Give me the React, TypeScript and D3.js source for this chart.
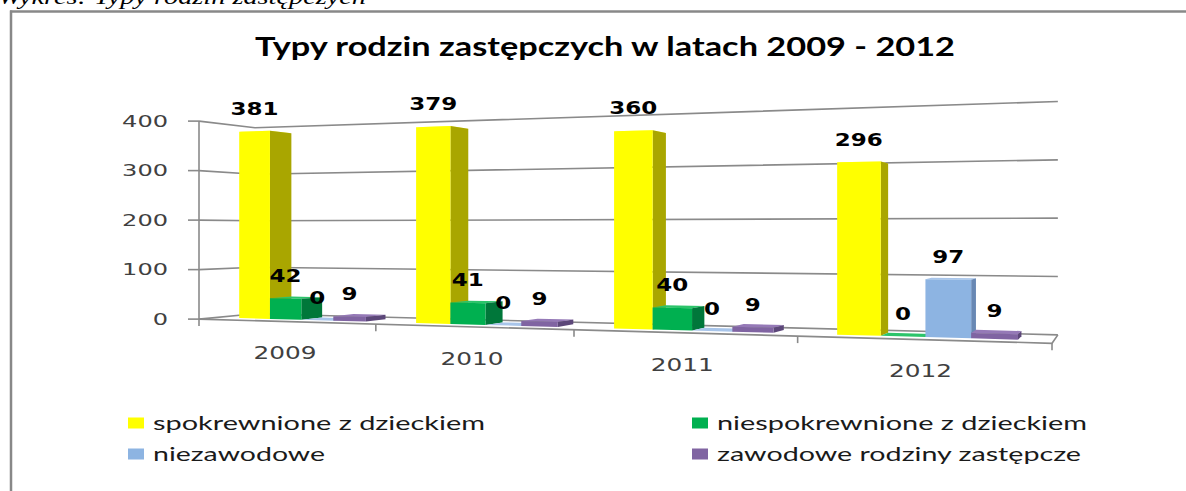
import React from 'react';
import * as d3 from 'd3';

// ---------- data ----------
const years = ['2009', '2010', '2011', '2012'];
const spokrewnione = [381, 379, 360, 296];
const niespokrewnione = [42, 41, 40, 0];
const niezawodowe = [0, 0, 0, 97];
const zawodowe = [9, 9, 9, 9];
const seriesNames = [
  'spokrewnione z dzieckiem',
  'niespokrewnione z dzieckiem',
  'niezawodowe',
  'zawodowe rodziny zastępcze',
];
const valueTicks = [0, 100, 200, 300, 400];
const titleText = 'Typy rodzin zastępczych w latach 2009 - 2012';
const captionText = 'Wykres: Typy rodzin zastępczych';

// ---------- styles ----------
const palette = [
  { front: '#FFFF00', side: '#A9A600', top: '#FFFF70' },
  { front: '#00B050', side: '#00773A', top: '#2CC46A' },
  { front: '#8DB4E2', side: '#6888B4', top: '#A8C5EA' },
  { front: '#8064A2', side: '#5C4779', top: '#9579B7' },
];
const gridColor = '#8a8a8a';

// perspective camera parameters (two-point perspective)
const CAM = { a3: 199, a1: 626.3, a2: 72.3, c1: -0.2155, c2: 0.064, yh: 231 };
const eyeValue = 178;
const barFront = 0.3;
const barBack = 0.7;

const W = 1186;
const H = 491;

export default function App() {
  const series = [spokrewnione, niespokrewnione, niezawodowe, zawodowe];
  const xBand = d3.scaleBand<string>().domain(years).range([0, 1]).paddingInner(0).paddingOuter(0);
  const sBand = d3
    .scaleBand<number>()
    .domain(d3.range(series.length))
    .range([0, xBand.bandwidth()])
    .paddingInner(0)
    .paddingOuter(0.75);
  const yScale = d3.scaleLinear().domain([0, 400]).range([0, 198]);

  const proj = (X: number, Z: number, v: number): [number, number] => {
    const w = 1 + CAM.c1 * X + CAM.c2 * Z;
    return [
      (CAM.a3 + CAM.a1 * X + CAM.a2 * Z) / w,
      CAM.yh - (yScale(v) - yScale(eyeValue)) / w,
    ];
  };
  const line = d3.line();
  const poly = (pts: [number, number][]) => line(pts) + 'Z';

  const yMax = d3.max(valueTicks) as number;

  // grid lines (left wall + back wall)
  const grid = valueTicks.map((v) => line([proj(0, 0, v), proj(0, 1, v), proj(1, 1, v)]) as string);

  // bars
  const bars: React.ReactNode[] = [];
  const labels: React.ReactNode[] = [];
  years.forEach((yr, i) => {
    series.forEach((vals, k) => {
      const v = vals[i];
      const X0 = (xBand(yr) as number) + (sBand(k) as number);
      const X1 = X0 + sBand.bandwidth();
      const c = palette[k];
      const top = poly([proj(X0, barFront, v), proj(X1, barFront, v), proj(X1, barBack, v), proj(X0, barBack, v)]);
      const side = poly([proj(X1, barFront, 0), proj(X1, barBack, 0), proj(X1, barBack, v), proj(X1, barFront, v)]);
      const front = poly([proj(X0, barFront, 0), proj(X1, barFront, 0), proj(X1, barFront, v), proj(X0, barFront, v)]);
      bars.push(
        <g key={`b${i}-${k}`}>
          <path d={top} fill={c.top} />
          <path d={side} fill={c.side} />
          <path d={front} fill={c.front} />
        </g>
      );
      const [lx, ly] = proj((X0 + X1) / 2, barFront, v);
      const txt = String(v);
      const tl = 16 * txt.length;
      labels.push(
        <text
          key={`l${i}-${k}`}
          x={lx - tl / 2}
          y={ly - 23 + 6.6}
          fontFamily="'DejaVu Sans', Verdana, sans-serif"
          fontWeight="bold"
          fontSize={18}
          fill="#000"
          textLength={tl}
          lengthAdjust="spacingAndGlyphs"
        >
          {txt}
        </text>
      );
    });
  });

  const [ax0x, ax0y] = proj(0, 0, 0);
  const [, axTopY] = proj(0, 0, yMax);

  const catTicks = d3.range(years.length + 1).map((j) => {
    const X = j / years.length;
    const [x, y] = proj(X, 0, 0);
    return <line key={`ct${j}`} x1={x} y1={y} x2={x} y2={y + 7} stroke={gridColor} strokeWidth={1.6} />;
  });

  const catLabels = years.map((yr) => {
    const Xc = (xBand(yr) as number) + xBand.bandwidth() / 2;
    const [x, y] = proj(Xc, 0, 0);
    return (
      <text
        key={`cl${yr}`}
        x={x - 31.5}
        y={y + 31.5 + 6.2}
        fontFamily="'DejaVu Sans', Verdana, sans-serif"
        fontSize={17}
        fill="#404040"
        textLength={63}
        lengthAdjust="spacingAndGlyphs"
      >
        {yr}
      </text>
    );
  });

  const valueLabels = valueTicks.map((v) => {
    const [x, y] = proj(0, 0, v);
    const txt = String(v);
    const tl = 15.3 * txt.length;
    return (
      <g key={`vl${v}`}>
        <line x1={x - 11} y1={y} x2={x} y2={y} stroke={gridColor} strokeWidth={1.6} />
        <text
          x={168 - tl}
          y={y + 5.8}
          fontFamily="'DejaVu Sans', Verdana, sans-serif"
          fontSize={16}
          fill="#404040"
          textLength={tl}
          lengthAdjust="spacingAndGlyphs"
        >
          {txt}
        </text>
      </g>
    );
  });

  const legendItems = [
    { x: 128, y: 423, tl: 332 },
    { x: 692, y: 423, tl: 370 },
    { x: 128, y: 454, tl: 172 },
    { x: 692, y: 454, tl: 364 },
  ];

  return (
    <svg
      width={W}
      height={H}
      style={{ position: 'absolute', left: 0, top: 0, background: '#fff' }}
      xmlns="http://www.w3.org/2000/svg"
    >
      <rect x={0} y={0} width={W} height={H} fill="#fff" />
      <text
        x={-2}
        y={4}
        fontFamily="'Liberation Serif', 'Times New Roman', serif"
        fontStyle="italic"
        fontSize={22}
        fill="#000"
        textLength={368}
        lengthAdjust="spacingAndGlyphs"
      >
        {captionText}
      </text>
      {/* frame */}
      <line x1={10} y1={11.5} x2={W} y2={11.5} stroke="#888" strokeWidth={2.5} />
      <line x1={11} y1={10.5} x2={11} y2={H} stroke="#888" strokeWidth={2.5} />

      <text
        x={255}
        y={56}
        fontFamily="Lato, 'Open Sans', sans-serif"
        fontWeight="bold"
        fontSize={26}
        fill="#000"
        textLength={700}
        lengthAdjust="spacingAndGlyphs"
      >
        {titleText}
      </text>

      {/* walls grid */}
      {grid.map((d, i) => (
        <path key={`g${i}`} d={d} fill="none" stroke={gridColor} strokeWidth={1.6} />
      ))}
      {/* floor */}
      <path d={line([proj(0, 0, 0), proj(1, 0, 0), proj(1, 1, 0)]) as string} fill="none" stroke={gridColor} strokeWidth={1.6} />
      {/* value axis */}
      <line x1={ax0x} y1={axTopY} x2={ax0x} y2={ax0y} stroke={gridColor} strokeWidth={1.6} />
      {valueLabels}
      {catTicks}
      {bars}
      {labels}
      {catLabels}

      {/* legend */}
      {legendItems.map((it, k) => (
        <g key={`lg${k}`}>
          <rect x={it.x} y={it.y - 5.5} width={16} height={11} fill={palette[k].front} />
          <text
            x={it.x + 25}
            y={it.y + 6.5}
            fontFamily="Lato, 'Open Sans', sans-serif"
            fontSize={20}
            fill="#1a1a1a"
            textLength={it.tl}
            lengthAdjust="spacingAndGlyphs"
          >
            {seriesNames[k]}
          </text>
        </g>
      ))}
    </svg>
  );
}
